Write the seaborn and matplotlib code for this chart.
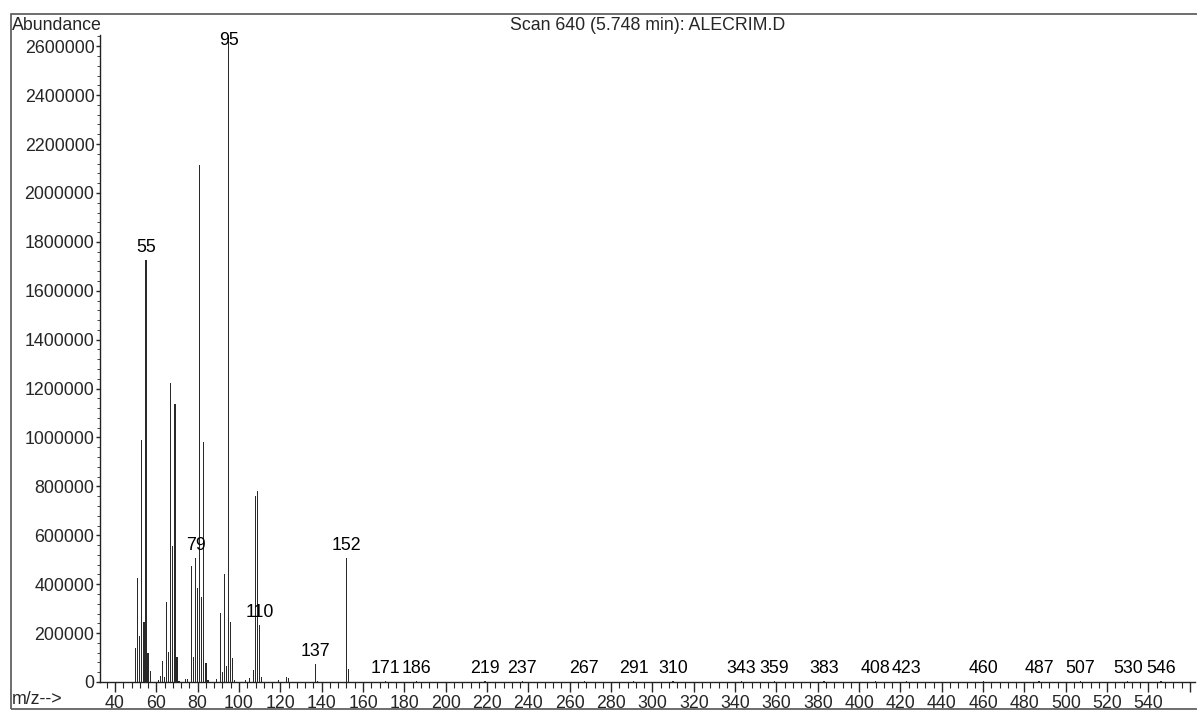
import matplotlib
matplotlib.use("Agg")
import matplotlib.pyplot as plt
from matplotlib.patches import Rectangle
from matplotlib.ticker import FixedLocator, MultipleLocator, FuncFormatter
import pandas as pd
import seaborn as sns

# ---- data ----
mz = [50, 51, 52, 53, 54, 55, 56, 57, 61, 62, 63, 64, 65, 66, 67, 68, 69, 70, 71,
      74, 75, 77, 78, 79, 80, 81, 82, 83, 84, 85, 89, 91, 92, 93, 94, 95, 96, 97, 98,
      103, 105, 107, 108, 109, 110, 111, 119, 123, 124, 137, 138, 152, 153,
      171, 186, 219, 237, 267, 291, 310, 343, 359, 383, 408, 423, 460, 487, 507, 530, 546]
abundance = [140000, 425000, 188000, 990000, 245000, 1725000, 118000, 45000, 8000, 25000,
             86000, 20000, 327000, 123000, 1223000, 556000, 1137000, 102000, 6000,
             12000, 12000, 474000, 102000, 507000, 384000, 2115000, 348000, 982000, 78000,
             8000, 12000, 282000, 41000, 442000, 65000, 2654000, 245000, 98000, 8000,
             10000, 16000, 49000, 761000, 781000, 233000, 20000, 8000, 20000, 18000,
             74000, 6000, 507000, 53000,
             2500, 2500, 2500, 2500, 2500, 2500, 2500, 2500, 2500, 2500, 2500, 2500,
             2500, 2500, 2500, 2500, 2500]
labeled_mz = [55, 79, 95, 110, 137, 152, 171, 186, 219, 237, 267, 291, 310, 343, 359,
              383, 408, 423, 460, 487, 507, 530, 546]
x_ticks = list(range(40, 561, 20))
y_ticks = list(range(0, 2600001, 200000))
title = "Scan 640 (5.748 min): ALECRIM.D"
y_title = "Abundance"
x_title = "m/z-->"

sns.set_style("ticks")
plt.rcParams['font.family'] = ['Liberation Sans', 'DejaVu Sans']
FS = 12.8

W, H = 1197, 711
fig = plt.figure(figsize=(W / 100, H / 100), dpi=100)
ax = fig.add_axes([100 / W, 1 - 682 / H, (1195 - 100) / W, (682 - 35) / H])

df = pd.DataFrame({"mz": mz, "abundance": abundance})
sns.barplot(data=df, x="mz", y="abundance", native_scale=True, width=0.6,
            color="#2a2a2a", saturation=1, errorbar=None, linewidth=0, ax=ax)

ymax = 2646000
ax.set_xlim(32.75, 562.5)
ax.set_ylim(0, ymax)
ax.set_xlabel("")
ax.set_ylabel("")

lookup = dict(zip(mz, abundance))
for m in labeled_mz:
    yv = min(lookup[m], 2570000)
    ax.annotate(str(m), (m, yv), xytext=(0, 3), textcoords="offset points",
                ha="center", va="bottom", fontsize=FS, color="black",
                annotation_clip=False)

ax.xaxis.set_major_locator(FixedLocator(x_ticks))
ax.xaxis.set_major_formatter(FuncFormatter(lambda v, p: "" if v > 550 else f"{int(round(v))}"))
ax.xaxis.set_minor_locator(MultipleLocator(4))
ax.yaxis.set_major_locator(FixedLocator(y_ticks))
ax.yaxis.set_major_formatter(FuncFormatter(lambda v, p: f"{int(round(v))}"))
ax.yaxis.set_minor_locator(MultipleLocator(40000))

ax.tick_params(axis="x", which="major", length=7, width=1, pad=2, labelsize=FS, direction="out")
ax.tick_params(axis="x", which="minor", length=4, width=0.8, direction="out")
ax.tick_params(axis="y", which="major", length=3, width=1, pad=1, labelsize=FS, direction="out")
ax.tick_params(axis="y", which="minor", length=2, width=0.6, direction="out")

for s in ["top", "right"]:
    ax.spines[s].set_visible(False)
for s in ["left", "bottom"]:
    ax.spines[s].set_color("#222222")
    ax.spines[s].set_linewidth(1)

fig.text(12 / W, 1 - 26 / H, y_title, ha="left", va="center", fontsize=FS)
fig.text(648 / W, 1 - 26 / H, title, ha="center", va="center", fontsize=FS)
fig.text(12 / W, 1 - 700 / H, x_title, ha="left", va="center", fontsize=FS)

fig.add_artist(Rectangle((11 / W, 1 - 709 / H), 1.0, (709 - 14) / H,
                         transform=fig.transFigure, fill=False,
                         edgecolor="#555555", linewidth=1.2))

fig.savefig("out.png", dpi=100)
